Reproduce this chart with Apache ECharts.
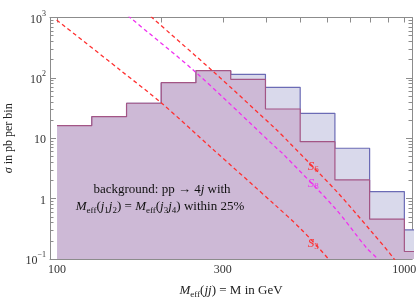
<!DOCTYPE html>
<html>
<head>
<meta charset="utf-8">
<script src="https://cdn.jsdelivr.net/npm/echarts@6/dist/echarts.min.js"></script>
<style>html,body{margin:0;padding:0;background:#fff}#c{width:417px;height:300px}</style>
</head>
<body>
<div id="c"></div>
<script>
// ---- data ----
const binEdges = [100, 125.9, 158.5, 199.5, 251.2, 316.2, 398.1, 501.2, 631.0, 794.3, 1000, 1258.9];
const histBlue = [16.2, 22.8, 38.0, 83.2, 131.5, 114.7, 69.8, 25.9, 6.83, 1.31, 0.303];
const histPink = [16.2, 22.8, 38.0, 83.2, 131.5, 94.8, 30.5, 8.78, 2.04, 0.456, 0.133];
const curveS3 = [[99.7, 909], [151.8, 135], [200.1, 38.0], [278.8, 6.83], [424.2, 0.786], [500.8, 0.324], [604, 0.1005], [640, 0.06]];
const curveS6 = [[180, 1250], [187.3, 1008], [281.8, 126.7], [429, 13.7], [463.5, 8.78], [638.9, 1.306], [796.5, 0.303], [933.9, 0.1004], [980, 0.06]];
const curveS8 = [[155, 1300], [160.4, 1059], [249.6, 126.7], [429, 6.83], [443.6, 5.78], [631.6, 0.693], [779.3, 0.151], [836, 0.1], [870, 0.06]];
const xMajorTicks = [100, 200, 300, 400, 500, 600, 700, 800, 900, 1000];
const xTickLabels = [100, 300, 1000];
const yMajorTicks = [0.1, 1, 10, 100, 1000];
const yMinorTicks = [0.2,0.3,0.4,0.5,0.6,0.7,0.8,0.9, 2,3,4,5,6,7,8,9, 20,30,40,50,60,70,80,90, 200,300,400,500,600,700,800,900];
const lineLabels = [
  {name: 'S', sub: '6', at: [547, 3.39], color: '#ff3030'},
  {name: 'S', sub: '8', at: [547, 1.80], color: '#f030f0'},
  {name: 'S', sub: '3', at: [547, 0.183], color: '#ff3030'}
];

function stepData(edges, vals) {
  const d = vals.map((v, i) => [edges[i], v]);
  d.push([edges[vals.length], vals[vals.length - 1]]);
  return d;
}

const FONT = 'Liberation Serif';
const AX = '#8c8c8c';
const chart = echarts.init(document.getElementById('c'), null, {renderer: 'canvas'});

const yLabelFmt = v => {
  if (Math.abs(v - 1000) < 1e-6) return '{b|10}{s|3}';
  if (Math.abs(v - 100) < 1e-6) return '{b|10}{s|2}';
  if (Math.abs(v - 10) < 1e-6) return '{b|10}';
  if (Math.abs(v - 1) < 1e-6) return '{b|1}';
  if (Math.abs(v - 0.1) < 1e-6) return '{b|10}{s|\u22121}';
  return '';
};
const richY = {
  b: {fontFamily: FONT, fontSize: 12, color: '#333', lineHeight: 16, verticalAlign: 'bottom'},
  s: {fontFamily: FONT, fontSize: 8, color: '#333', lineHeight: 16, verticalAlign: 'top'}
};

function xAxisDef(pos, isMain) {
  return {
    type: 'log', logBase: 10, min: 95.4, max: 1052, position: pos, gridIndex: 0,
    axisLine: {show: true, lineStyle: {color: AX, width: 1}},
    axisTick: {show: true, inside: true, length: 5, customValues: xMajorTicks, lineStyle: {color: AX}},
    axisLabel: isMain ? {show: true, customValues: xTickLabels, margin: 5, fontFamily: FONT, fontSize: 12, color: '#333', formatter: v => String(Math.round(v))} : {show: false},
    splitLine: {show: false}, minorTick: {show: false},
    name: isMain ? '{i|M}{sub|eff}{n|(}{i|jj}{n|) = M in GeV}' : '',
    nameLocation: 'middle', nameGap: 25,
    nameTextStyle: {rich: {
      i: {fontFamily: FONT, fontStyle: 'italic', fontSize: 13, color: '#222', lineHeight: 17, verticalAlign: 'top'},
      n: {fontFamily: FONT, fontSize: 13, color: '#222', lineHeight: 17, verticalAlign: 'top'},
      sub: {fontFamily: FONT, fontSize: 9, color: '#222', lineHeight: 17, verticalAlign: 'top', padding: [6, 0, 0, 0]}
    }}
  };
}
function yAxisDef(pos, major, isMain) {
  return {
    type: 'log', logBase: 10, min: 0.1, max: 1000, position: pos, gridIndex: 0,
    axisLine: {show: major, lineStyle: {color: AX, width: 1}},
    axisTick: {show: true, inside: true, length: major ? 6 : 3.5, customValues: major ? yMajorTicks : yMinorTicks, lineStyle: {color: AX}},
    axisLabel: isMain ? {show: true, customValues: yMajorTicks, margin: 4, formatter: yLabelFmt, rich: richY} : {show: false},
    splitLine: {show: false}, minorTick: {show: false},
    name: isMain ? '{i|\u03c3}{n| in pb per bin}' : '',
    nameLocation: 'middle', nameGap: 28, nameRotate: 90,
    nameTextStyle: {rich: {
      i: {fontFamily: FONT, fontStyle: 'italic', fontSize: 12, color: '#222'},
      n: {fontFamily: FONT, fontSize: 12, color: '#222'}
    }}
  };
}

const dashed = (data, color) => ({
  type: 'line', data: data, showSymbol: false, symbol: 'none', smooth: 0.3, z: 5,
  lineStyle: {color: color, width: 1.3, type: [4, 3]}, clip: true, silent: true
});

chart.setOption({
  animation: false,
  grid: {left: 50, top: 17.5, right: 5, bottom: 41, containLabel: false, outerBoundsMode: 'none'},
  xAxis: [xAxisDef('bottom', true), xAxisDef('top', false)],
  yAxis: [yAxisDef('left', true, true), yAxisDef('left', false, false), yAxisDef('right', true, false), yAxisDef('right', false, false)],
  series: [
    {type: 'line', step: 'end', data: stepData(binEdges, histBlue), symbol: 'none', z: 2,
     lineStyle: {color: '#6b6bb5', width: 1.2}, areaStyle: {color: '#d9d9eb', opacity: 1, origin: 'start'}, clip: true},
    {type: 'line', step: 'end', data: stepData(binEdges, histPink), symbol: 'none', z: 3,
     lineStyle: {color: '#a35585', width: 1.2}, areaStyle: {color: '#cdb9d6', opacity: 1, origin: 'start'}, clip: true},
    dashed(curveS3, '#ff3030'),
    dashed(curveS6, '#ff3030'),
    dashed(curveS8, '#f030f0')
  ]
});

const annRich = {
  n: {fontFamily: FONT, fontSize: 13, fill: '#111'},
  i: {fontFamily: FONT, fontSize: 13, fontStyle: 'italic', fill: '#111'},
  sub: {fontFamily: FONT, fontSize: 9, fill: '#111', padding: [7, 0, 0, 0]}
};
const graphics = [
  {type: 'text', x: 162, y: 190, z: 10, style: {rich: annRich, align: 'center', verticalAlign: 'middle', text: '{n|background: pp \u2192 4}{i|j}{n| with}'}},
  {type: 'text', x: 160, y: 207, z: 10, style: {rich: annRich, align: 'center', verticalAlign: 'middle',
    text: '{i|M}{sub|eff}{n|(}{i|j}{sub|1}{i|j}{sub|2}{n|) = }{i|M}{sub|eff}{n|(}{i|j}{sub|3}{i|j}{sub|4}{n|) within 25%}'}}
];
lineLabels.forEach(l => {
  const p = chart.convertToPixel({xAxisIndex: 0, yAxisIndex: 0}, l.at);
  graphics.push({type: 'text', x: p[0], y: p[1], z: 10, style: {
    fill: l.color,
    rich: {s: {fontFamily: FONT, fontSize: 13, fontStyle: 'italic', fill: l.color}, d: {fontFamily: FONT, fontSize: 9, fill: l.color, padding: [7, 0, 0, 0]}},
    text: '{s|' + l.name + '}{d|' + l.sub + '}', align: 'center', verticalAlign: 'middle'}});
});
chart.setOption({graphic: graphics});
</script>
</body>
</html>
